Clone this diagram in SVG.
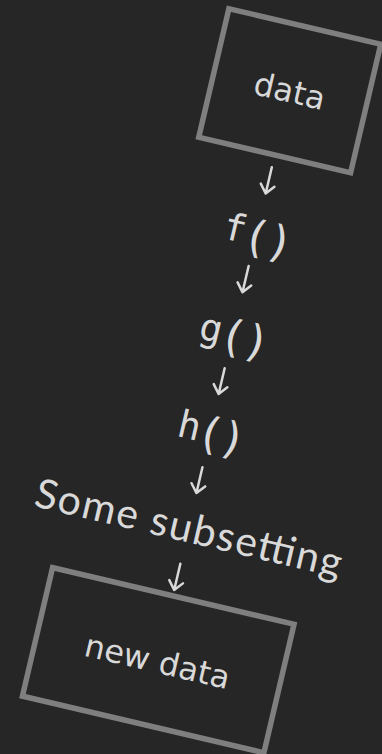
<svg xmlns="http://www.w3.org/2000/svg" width="382" height="754" viewBox="0 0 382 754">
  <style>
    .box { fill: none; stroke: #7f7f7f; stroke-width: 5.5; }
    .lbl { fill: #d9d9d9; font-family: "DejaVu Sans", "Noto Sans", sans-serif; font-size: 32px; text-anchor: middle; }
    .fn { fill: #d9d9d9; font-family: "DejaVu Sans Mono", "Liberation Mono", monospace; font-size: 38px; text-anchor: middle; }
    .p { font-size: 44px; }
    .sub { fill: #d9d9d9; font-family: "Lato", "Noto Sans", sans-serif; font-size: 41px; text-anchor: middle; }
    .arrow { fill: none; stroke: #d9d9d9; stroke-width: 2.5; stroke-linecap: round; stroke-linejoin: round; }
  </style>
  <rect width="382" height="754" fill="#262626"/>
  <g transform="translate(289.75 90.75) rotate(13.2)">
    <g id="data">
      <rect class="box" x="-78" y="-66" width="156" height="132"/>
      <text class="lbl" x="0" y="11.5">data</text>
    </g>
    <g id="f">
      <text class="fn"><tspan x="-22" y="159">f</tspan><tspan class="p" x="1" y="165">(</tspan><tspan class="p" x="25" y="165">)</tspan></text>
    </g>
    <g id="g">
      <text class="fn"><tspan x="-22" y="262">g</tspan><tspan class="p" x="1" y="267">(</tspan><tspan class="p" x="25" y="267">)</tspan></text>
    </g>
    <g id="h">
      <text class="fn"><tspan x="-21" y="362">h</tspan><tspan class="p" x="1" y="367">(</tspan><tspan class="p" x="24" y="367">)</tspan></text>
    </g>
    <g id="subsetting">
      <text class="sub" x="1.5" y="463" textLength="314" lengthAdjust="spacing">Some subsetting</text>
    </g>
    <g id="new-data">
      <rect class="box" x="-122" y="518.4" width="248" height="132"/>
      <text class="lbl" x="1.5" y="597">new data</text>
    </g>
    <g id="connectors">
      <path class="arrow" d="M0 78.5 V105.5 M-7 97 L0 105.5 L7 97"/>
      <path class="arrow" d="M0 180 V207 M-7 198.5 L0 207 L7 198.5"/>
      <path class="arrow" d="M0 285 V311.5 M-7 303 L0 311.5 L7 303"/>
      <path class="arrow" d="M1 386.5 V413 M-6 404.5 L1 413 L8 404.5"/>
      <path class="arrow" d="M1.5 485.5 V512.5 M-5.5 504 L1.5 512.5 L8.5 504"/>
    </g>
  </g>
</svg>
